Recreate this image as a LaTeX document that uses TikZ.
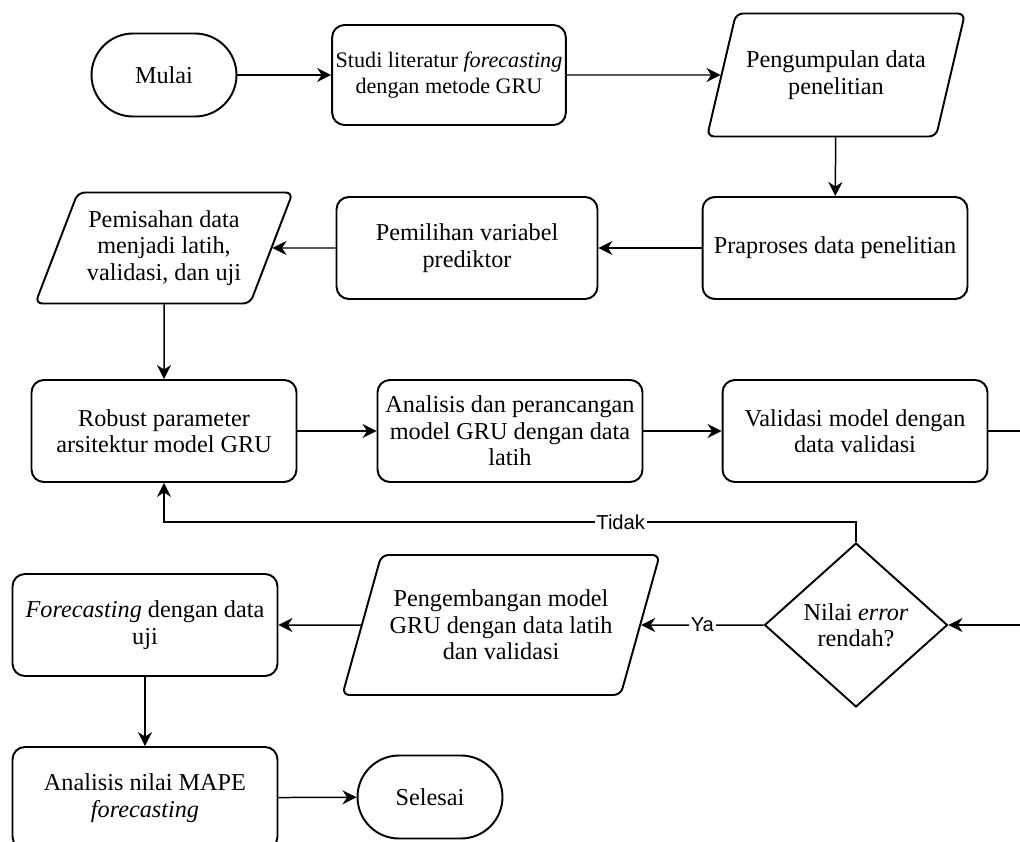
\documentclass[tikz,border=0pt]{standalone}
\usepackage{fontspec}
\setmainfont{Liberation Serif}
\newfontfamily\labelfont{Liberation Sans}
\usetikzlibrary{positioning,shapes.geometric,arrows.meta}

\tikzset{
    box/.style={draw, line width=1.1pt, align=center, inner sep=2pt, font=\fontsize{13.8}{15}\selectfont},
    proses/.style={box, rectangle, rounded corners=7pt, minimum width=5.3cm, minimum height=2.04cm},
    terminal/.style={box, rectangle, rounded corners=0.83cm, minimum width=2.9cm, minimum height=1.66cm},
    data/.style={box, trapezium, trapezium left angle=64, trapezium right angle=116, trapezium stretches=true, rounded corners=4pt},
    keputusan/.style={box, diamond, minimum width=3.66cm, minimum height=3.28cm, inner sep=0pt},
    arr/.style={line width=0.85pt, -{Stealth[length=8pt,width=8pt]}},
    lbl/.style={fill=white, inner sep=1pt, font=\labelfont\fontsize{11.5}{13}\selectfont},
}

\begin{document}
\begin{tikzpicture}[x=0.02cm, y=-0.02cm]
    \useasboundingbox (0,0) rectangle (1020,841);
    \clip (0,0) rectangle (1020,841);

    \node[terminal] (mulai) at (164,75) {Mulai};
    \node[proses, minimum width=4.56cm, minimum height=2cm, font=\fontsize{12.6}{15}\selectfont] (studi) at (449,75) {Studi literatur \textit{forecasting}\\dengan metode GRU};
    \node[data, minimum width=5.16cm, minimum height=2.46cm] (kumpul) at (836,75) {Pengumpulan data\\penelitian};
    \node[proses] (praproses) at (835,248) {Praproses data penelitian};
    \node[proses, minimum width=5.22cm] (pilih) at (467,248) {Pemilihan variabel\\prediktor};
    \node[data, minimum width=5.16cm, minimum height=2.22cm] (pisah) at (164,248) {Pemisahan data\\menjadi latih,\\validasi, dan uji};
    \node[proses] (robust) at (164,431) {Robust parameter\\arsitektur model GRU};
    \node[proses] (rancang) at (510,431) {Analisis dan perancangan\\model GRU dengan data\\latih};
    \node[proses] (validasi) at (855,431) {Validasi model dengan\\data validasi};
    \node[keputusan] (cek) at (856,625) {Nilai \textit{error}\\rendah?};
    \node[data, minimum width=6.36cm, minimum height=2.8cm] (kembang) at (501,625) {Pengembangan model\\GRU dengan data latih\\dan validasi};
    \node[proses] (uji) at (145,625) {\textit{Forecasting} dengan data\\uji};
    \node[proses] (mape) at (145,798) {Analisis nilai MAPE\\\textit{forecasting}};
    \node[terminal] (selesai) at (430,797) {Selesai};
    \coordinate (balik) at (164,522);

    \draw[arr] (mulai) -- (studi);
    \draw[arr] (studi) -- (kumpul);
    \draw[arr] (kumpul) -- (praproses);
    \draw[arr] (praproses) -- (pilih);
    \draw[arr] (pilih) -- (pisah);
    \draw[arr] (pisah) -- (robust);
    \draw[arr] (robust) -- (rancang);
    \draw[arr] (rancang) -- (validasi);
    \draw[arr] (validasi.east) -- ++(42,0) |- (cek.east);
    \draw[arr] (cek.north) |- node[lbl, pos=0.67] {Tidak} (balik) -- (robust.south);
    \draw[arr] (cek) -- node[lbl] {Ya} (kembang);
    \draw[arr] (kembang) -- (uji);
    \draw[arr] (uji) -- (mape);
    \draw[arr] (mape) -- (selesai);
\end{tikzpicture}
\end{document}
